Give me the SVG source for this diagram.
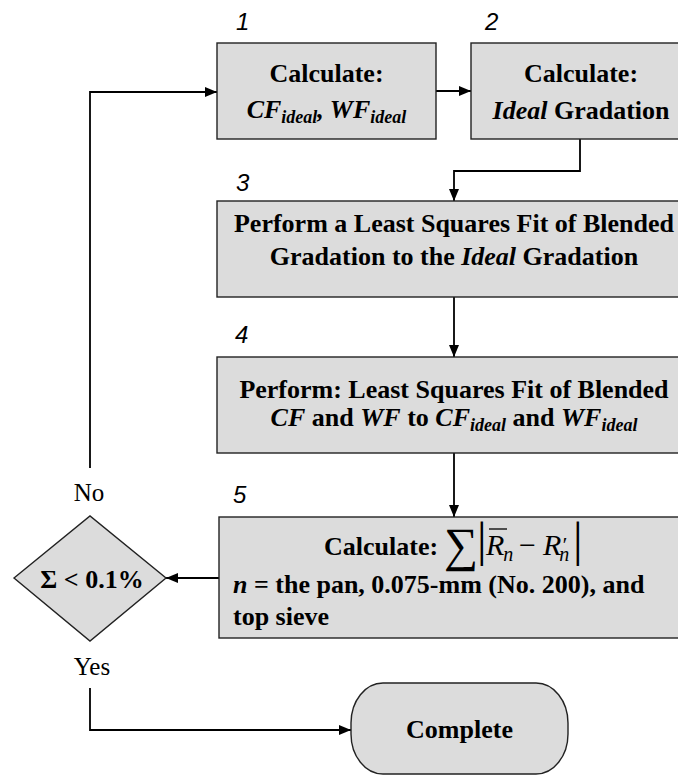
<svg xmlns="http://www.w3.org/2000/svg" width="678" height="776" viewBox="0 0 678 776">
<style>
.box{fill:#dcdcdc;stroke:#222;stroke-width:1.4}
.conn{fill:none;stroke:#000;stroke-width:1.8}
.t{font-family:"Liberation Serif","Times New Roman",serif;font-size:26px;font-weight:bold;fill:#000}
.it{font-style:italic}
.sub{font-size:18px}
.num{font-family:"Liberation Sans",Arial,sans-serif;font-size:24px;font-style:italic;fill:#000}
.lbl{font-family:"Liberation Serif","Times New Roman",serif;font-size:25px;fill:#000}
.m{font-family:"Liberation Serif","Times New Roman",serif;font-weight:normal;fill:#000}
</style>
<defs>
<marker id="arr" viewBox="0 0 12 10" refX="12" refY="5" markerWidth="12" markerHeight="10" markerUnits="userSpaceOnUse" orient="auto"><path d="M0,0 L12,5 L0,10 z" fill="#000"/></marker>
</defs>
<g id="connectors">
<path class="conn" d="M90,468 V92 H217" marker-end="url(#arr)"/>
<path class="conn" d="M436,91 H471" marker-end="url(#arr)"/>
<path class="conn" d="M580,139 V171 H454 V201" marker-end="url(#arr)"/>
<path class="conn" d="M454,297 V357" marker-end="url(#arr)"/>
<path class="conn" d="M454,453 V517" marker-end="url(#arr)"/>
<path class="conn" d="M219,578 H166" marker-end="url(#arr)"/>
<path class="conn" d="M90,688 V730 H351" marker-end="url(#arr)"/>
</g>
<g id="node1">
<text class="num" x="236" y="30">1</text>
<rect class="box" x="217" y="43" width="219" height="96"/>
<text class="t" x="326.5" y="82" text-anchor="middle">Calculate:</text>
<text class="t it" x="326.5" y="118" text-anchor="middle">CF<tspan class="sub" dy="5">ideal</tspan><tspan dy="-5">, WF</tspan><tspan class="sub" dy="5">ideal</tspan></text>
</g>
<g id="node2">
<text class="num" x="485" y="30">2</text>
<rect class="box" x="471" y="43" width="220" height="96"/>
<text class="t" x="581" y="82" text-anchor="middle">Calculate:</text>
<text class="t" x="581" y="119" text-anchor="middle"><tspan class="it">Ideal</tspan> Gradation</text>
</g>
<g id="node3">
<text class="num" x="236" y="191">3</text>
<rect class="box" x="217" y="201" width="474" height="96"/>
<text class="t" x="454" y="232" text-anchor="middle">Perform a Least Squares Fit of Blended</text>
<text class="t" x="454" y="265" text-anchor="middle">Gradation to the <tspan class="it">Ideal</tspan> Gradation</text>
</g>
<g id="node4">
<text class="num" x="235" y="343">4</text>
<rect class="box" x="217" y="357" width="474" height="96"/>
<text class="t" x="454" y="398" text-anchor="middle">Perform: Least Squares Fit of Blended</text>
<text class="t" x="454" y="426" text-anchor="middle"><tspan class="it">CF</tspan> and <tspan class="it">WF</tspan> to <tspan class="it">CF</tspan><tspan class="it sub" dy="5">ideal</tspan><tspan dy="-5"> and </tspan><tspan class="it">WF</tspan><tspan class="it sub" dy="5">ideal</tspan></text>
</g>
<g id="node5">
<text class="num" x="233" y="503">5</text>
<rect class="box" x="219" y="517" width="472" height="121"/>
<text class="t" x="324" y="555">Calculate:</text>
<text class="m" x="444" y="561" font-size="48">∑</text>
<text class="m" x="477" y="556" font-size="48">|</text>
<text class="m it" x="486" y="555" font-size="30">R<tspan font-size="20" dx="-1" dy="6">n</tspan></text>
<line x1="489" y1="529" x2="507" y2="529" stroke="#000" stroke-width="1.3"/>
<text class="m" x="519" y="555" font-size="30">−</text>
<text class="m it" x="543" y="555" font-size="30">R<tspan class="m" font-size="22" dy="-3">′</tspan><tspan font-size="20" dx="-7" dy="9">n</tspan></text>
<text class="m" x="573" y="556" font-size="48">|</text>
<text class="t" x="233" y="593"><tspan class="it">n</tspan> = the pan, 0.075-mm (No. 200), and</text>
<text class="t" x="233" y="625">top sieve</text>
</g>
<g id="decision">
<polygon class="box" points="14,578 90,516 166,578 90,641"/>
<text class="t" x="92" y="588" text-anchor="middle">Σ &lt; 0.1%</text>
<text class="lbl" x="89" y="501" text-anchor="middle">No</text>
<text class="lbl" x="92" y="675" text-anchor="middle">Yes</text>
</g>
<g id="complete">
<rect class="box" x="351" y="683" width="217" height="91" rx="32" ry="40"/>
<text class="t" x="459.5" y="738" text-anchor="middle">Complete</text>
</g>
</svg>
